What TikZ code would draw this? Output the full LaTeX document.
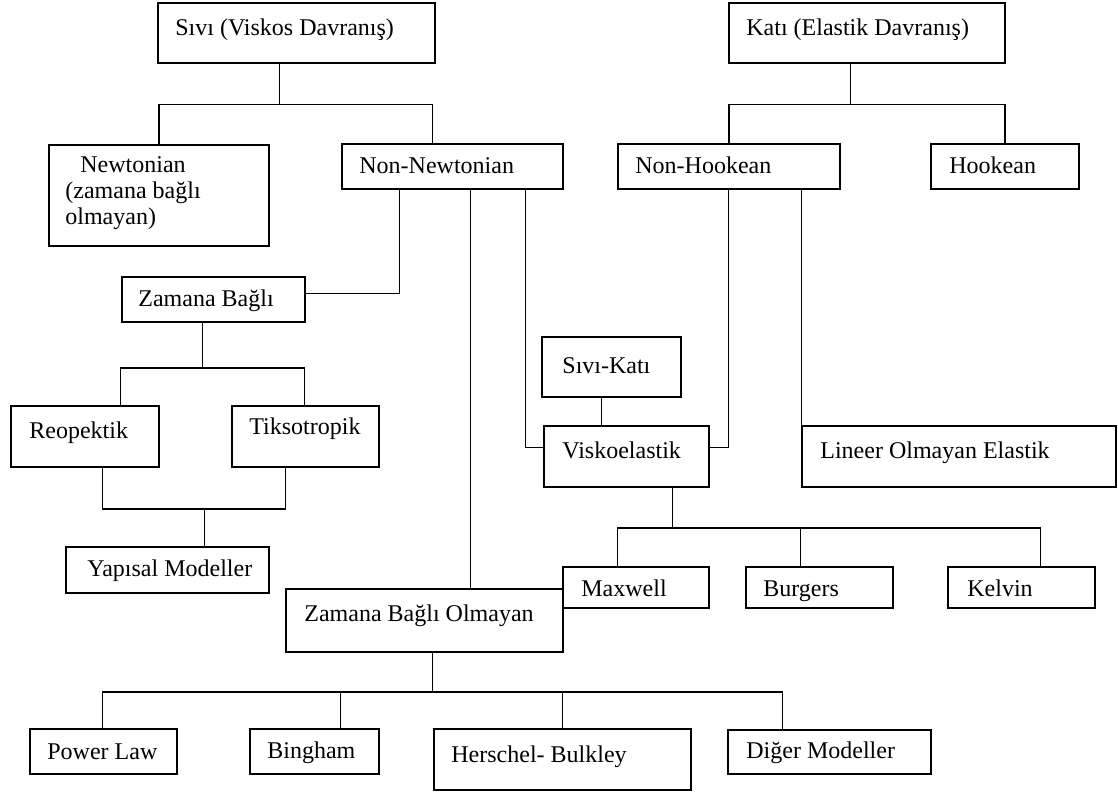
\documentclass[tikz,border=0pt]{standalone}
\usepackage{fontspec}
\setmainfont{Liberation Serif}
\usetikzlibrary{fit,calc}
\tikzset{
  bx/.style={draw=black, line width=0.75pt, fill=white, inner sep=0pt, rectangle},
  tx/.style={inner sep=0pt, anchor=base west, font=\fontsize{12}{13}\selectfont},
  ln/.style={draw=black, line width=0.75pt}
}
\begin{document}
\begin{tikzpicture}[x=0.5pt,y=-0.5pt]
\fill[white] (0,0) rectangle (1118,792);
\useasboundingbox (0,0) rectangle (1118,792);
% boxes
\node[bx, fit={(158,3) (435,63)}] (sivi) {};
\node[bx, fit={(729,3) (1005,63)}] (kati) {};
\node[bx, fit={(49,145) (269,246)}] (newt) {};
\node[bx, fit={(342,144) (563,189)}] (nonnewt) {};
\node[bx, fit={(618,144) (840,189)}] (nonhook) {};
\node[bx, fit={(931,144) (1079,189)}] (hook) {};
\node[bx, fit={(122,277) (305,322)}] (zb) {};
\node[bx, fit={(11,406) (159,467)}] (reo) {};
\node[bx, fit={(232,406) (379,467)}] (tik) {};
\node[bx, fit={(542,337) (681,397)}] (sk) {};
\node[bx, fit={(544,426) (709,487)}] (visko) {};
\node[bx, fit={(802,426) (1116,487)}] (lineer) {};
\node[bx, fit={(66,547) (269,593)}] (yap) {};
\node[bx, fit={(286,589) (563,652)}] (zbo) {};
\node[bx, fit={(563,567) (709,608)}] (maxwell) {};
\node[bx, fit={(746,567) (893,608)}] (burgers) {};
\node[bx, fit={(948,567) (1095,608)}] (kelvin) {};
\node[bx, fit={(30,729) (177,774)}] (power) {};
\node[bx, fit={(250,729) (379,774)}] (bingham) {};
\node[bx, fit={(434,729) (691,790)}] (herschel) {};
\node[bx, fit={(728,730) (931,774)}] (diger) {};
% texts
\node[tx] (sivi-t) at (175,36) {Sıvı (Viskos Davranış)};
\node[tx] (kati-t) at (746,36) {Katı (Elastik Davranış)};
\node[tx] (newt-t1) at (80,172) {Newtonian};
\node[tx] (newt-t2) at (65,198) {(zamana bağlı};
\node[tx] (newt-t3) at (65,224) {olmayan)};
\node[tx] (nonnewt-t) at (359,173) {Non-Newtonian};
\node[tx] (nonhook-t) at (635,173) {Non-Hookean};
\node[tx] (hook-t) at (949,173) {Hookean};
\node[tx] (zb-t) at (138,306) {Zamana Bağlı};
\node[tx] (reo-t) at (29,438) {Reopektik};
\node[tx] (tik-t) at (249,434) {Tiksotropik};
\node[tx] (sk-t) at (562,373) {Sıvı-Katı};
\node[tx] (visko-t) at (562,458) {Viskoelastik};
\node[tx] (lineer-t) at (820,458) {Lineer Olmayan Elastik};
\node[tx] (yap-t) at (87,576) {Yapısal Modeller};
\node[tx] (zbo-t) at (304,621) {Zamana Bağlı Olmayan};
\node[tx] (maxwell-t) at (581,596) {Maxwell};
\node[tx] (burgers-t) at (763,596) {Burgers};
\node[tx] (kelvin-t) at (967,596) {Kelvin};
\node[tx] (power-t) at (47,759) {Power Law};
\node[tx] (bingham-t) at (267,758) {Bingham};
\node[tx] (herschel-t) at (451,762) {Herschel- Bulkley};
\node[tx] (diger-t) at (746,758) {Diğer Modeller};
% connectors
\draw[ln] ($(sivi.south west)+(122,0)$) -- ++(0,41) coordinate (b1);
\draw[ln] (newt.north) |- (b1) -| ($(nonnewt.north west)+(91,0)$);
\draw[ln] ($(kati.south west)+(122,0)$) -- ++(0,41) coordinate (b2);
\draw[ln] (nonhook.north) |- (b2) -| (hook.north);
\draw[ln] ($(nonnewt.south west)+(58,0)$) |- ($(zb.north east)+(0,17)$);
\draw[ln] ($(nonnewt.south west)+(129,0)$) coordinate (t1) -- (t1 |- zbo.north);
\draw[ln] ($(nonnewt.south west)+(184,0)$) |- ($(visko.north west)+(0,22)$);
\draw[ln] ($(nonhook.south west)+(111,0)$) |- ($(visko.north east)+(0,22)$);
\draw[ln] (lineer.north west) -- (lineer.north west |- nonhook.south);
\draw[ln] ($(zb.south west)+(81,0)$) -- ++(0,45) coordinate (b3);
\draw[ln] ($(reo.north west)+(110,0)$) |- (b3) -| ($(tik.north west)+(73,0)$);
\draw[ln] ($(reo.south west)+(92,0)$) -- ++(0,41) coordinate (b4) -| ($(tik.south west)+(54,0)$);
\draw[ln] ($(yap.north west)+(139,0)$) coordinate (t2) -- (t2 |- b4);
\draw[ln] ($(sk.south west)+(60,0)$) coordinate (t3) -- (t3 |- visko.north);
\draw[ln] ($(visko.south west)+(129,0)$) -- ++(0,40) coordinate (b5);
\draw[ln] ($(maxwell.north west)+(55,0)$) |- (b5) -| ($(kelvin.north west)+(93,0)$);
\draw[ln] ($(burgers.north west)+(55,0)$) coordinate (t4) -- (t4 |- b5);
\draw[ln] ($(zbo.south west)+(147,0)$) -- ++(0,39) coordinate (b6);
\draw[ln] ($(power.north west)+(73,0)$) |- (b6) -| ($(diger.north west)+(55,0)$);
\draw[ln] ($(bingham.north west)+(91,0)$) coordinate (t5) -- (t5 |- b6);
\draw[ln] ($(herschel.north west)+(129,0)$) coordinate (t6) -- (t6 |- b6);
\end{tikzpicture}
\end{document}
